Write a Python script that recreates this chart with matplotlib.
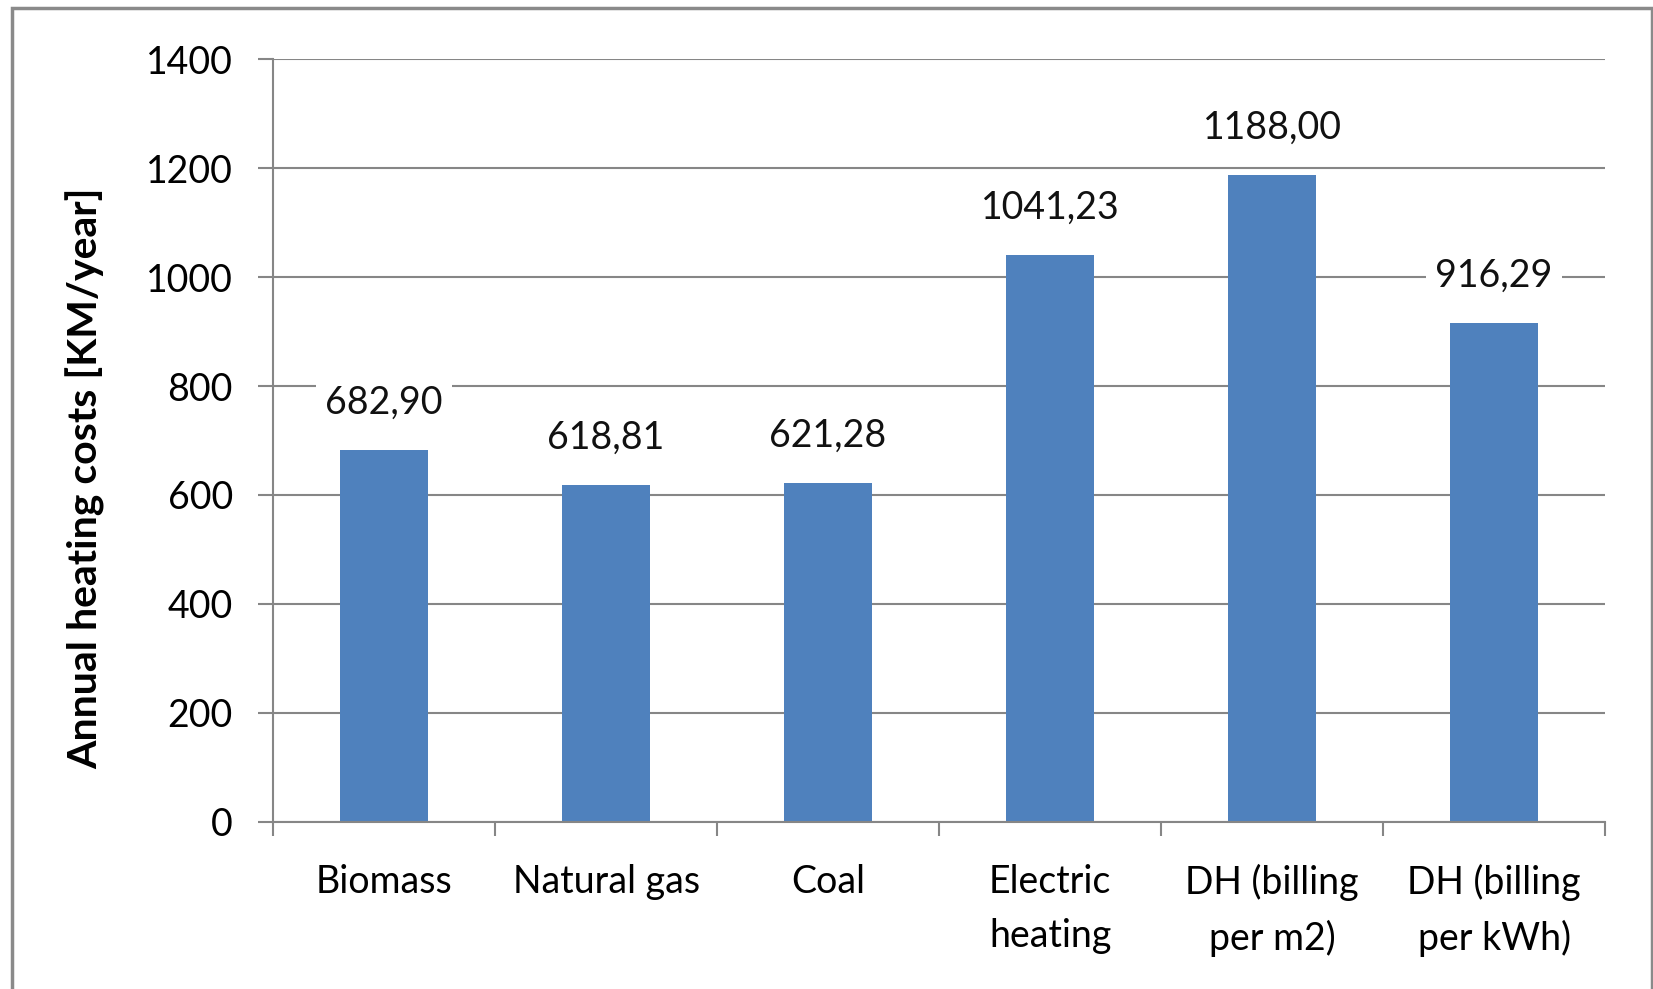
import matplotlib.pyplot as plt
from matplotlib.patches import Rectangle
from matplotlib.ticker import FixedLocator

plt.rcParams['font.family'] = ['Lato', 'DejaVu Sans']

# Datos
categorias = ['Biomass', 'Natural gas', 'Coal', 'Electric\nheating',
              'DH (billing\nper m2)', 'DH (billing\nper kWh)']
costes = [682.90, 618.81, 621.28, 1041.23, 1188.00, 916.29]
etiquetas = ['682,90', '618,81', '621,28', '1041,23', '1188,00', '916,29']
yticks = [0, 200, 400, 600, 800, 1000, 1200, 1400]

gris = '#868686'
azul = '#4F81BD'

fig = plt.figure(figsize=(16.53, 9.89), dpi=100)
ax = fig.add_axes([0.1652, 0.1689, 0.971 - 0.1652, 0.9403 - 0.1689])

x = list(range(len(categorias)))
ax.bar(x, costes, width=0.4, color=azul, zorder=2)

# Etiquetas de valores
for xi, v, t in zip(x, costes, etiquetas):
    ax.annotate(t, (xi, v), xytext=(0, 21), textcoords='offset points',
                ha='center', va='bottom', fontsize=27, color='#111111', zorder=4,
                bbox=dict(boxstyle='square,pad=0.25', fc='white', ec='none'))

ax.set_xlim(-0.5, len(categorias) - 0.5)
ax.set_ylim(0, 1400)
ax.set_yticks(yticks)
ax.set_yticklabels([str(t) for t in yticks])
ax.yaxis.grid(True, color=gris, linewidth=1.5, zorder=0)
ax.set_axisbelow(True)

ax.set_xticks(x)
ax.set_xticklabels(categorias, linespacing=1.62)
ax.xaxis.set_minor_locator(FixedLocator([i - 0.5 for i in range(len(categorias) + 1)]))
ax.tick_params(axis='x', which='major', length=0, pad=30, labelsize=27)
ax.tick_params(axis='x', which='minor', length=10, width=1.5, color=gris)
ax.tick_params(axis='y', length=11, width=1.5, color=gris, pad=18, labelsize=27)

for s in ['top', 'right']:
    ax.spines[s].set_visible(False)
for s in ['left', 'bottom']:
    ax.spines[s].set_color(gris)
    ax.spines[s].set_linewidth(1.5)

fig.text(86 / 1653, 1 - 478 / 989, 'Annual heating costs [KM/year]',
         rotation=90, ha='center', va='center', fontsize=29.5, fontweight='bold')

# Marco exterior
fig.patches.append(Rectangle((12 / 1653, -0.05), 1 - 13.5 / 1653, 1.05 - 8 / 989,
                             transform=fig.transFigure, fill=False,
                             edgecolor='#8a8a8a', linewidth=2.5))

fig.savefig('out.png', dpi=100)
